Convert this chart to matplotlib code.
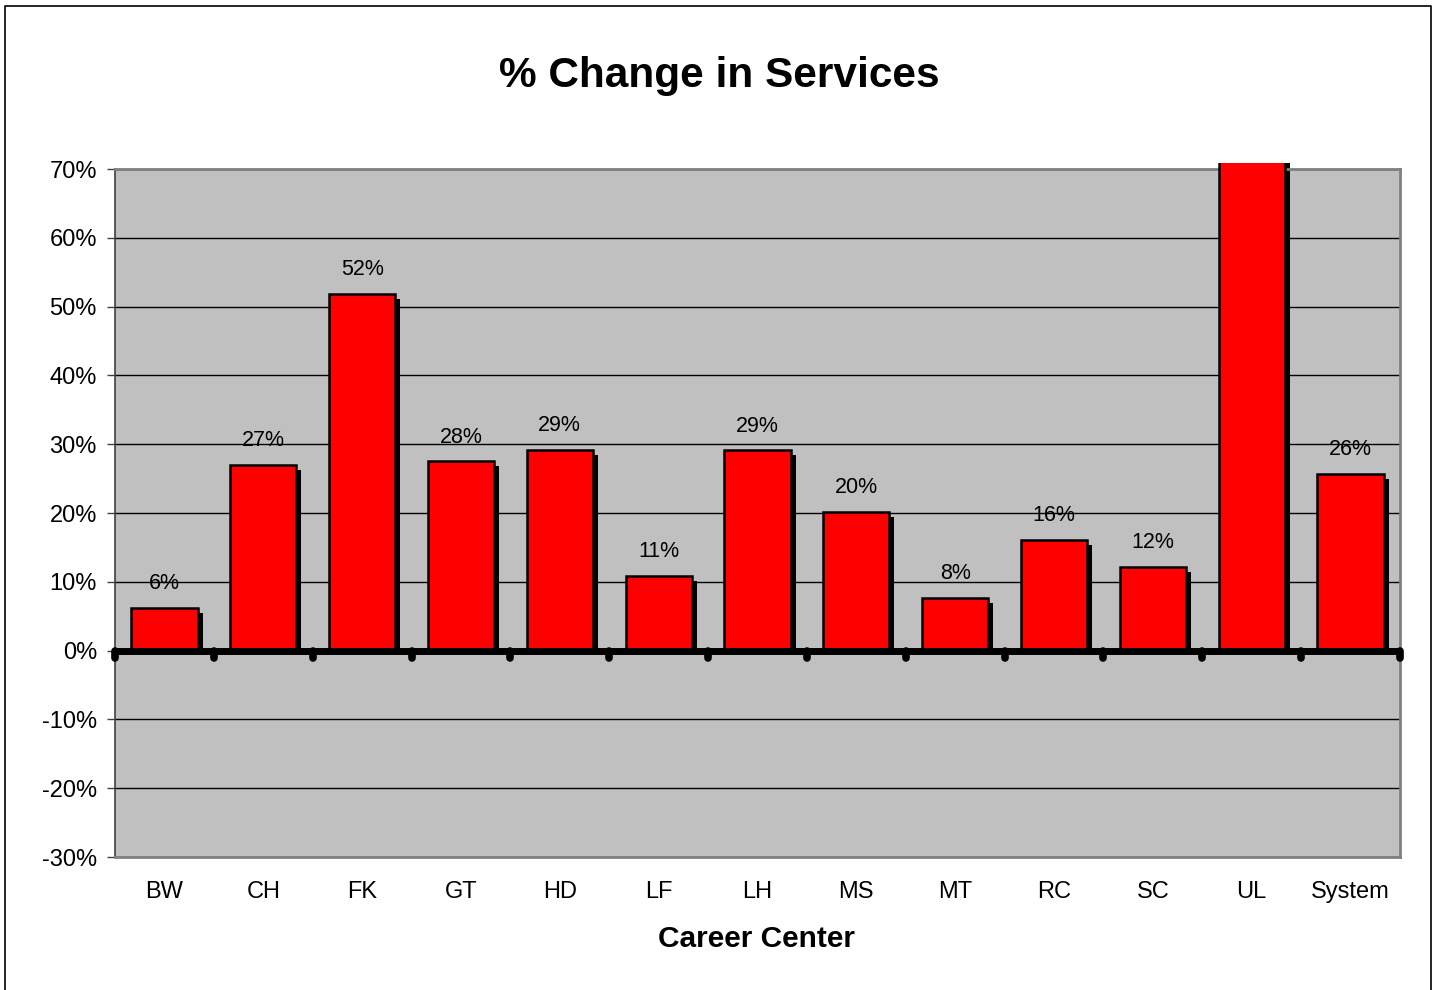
import matplotlib
matplotlib.use("Agg")
import matplotlib.pyplot as plt
from matplotlib.lines import Line2D
from matplotlib.transforms import Bbox, TransformedBbox, ScaledTranslation, blended_transform_factory
import numpy as np

plt.rcParams['font.family'] = ['Liberation Sans', 'DejaVu Sans']

categories = ["BW", "CH", "FK", "GT", "HD", "LF", "LH", "MS", "MT", "RC", "SC", "UL", "System"]
values = [0.062, 0.270, 0.519, 0.275, 0.292, 0.109, 0.291, 0.201, 0.076, 0.161, 0.122, 1.00, 0.257]
labels = ["6%", "27%", "52%", "28%", "29%", "11%", "29%", "20%", "8%", "16%", "12%", "", "26%"]
yticks = [-0.3, -0.2, -0.1, 0.0, 0.1, 0.2, 0.3, 0.4, 0.5, 0.6, 0.7]
ytick_labels = ["-30%", "-20%", "-10%", "0%", "10%", "20%", "30%", "40%", "50%", "60%", "70%"]

W, H, DPI = 1436, 990, 100
fig = plt.figure(figsize=(W / DPI, H / DPI), dpi=DPI)
ax = fig.add_axes([115 / W, 1 - 857 / H, (1400 - 115) / W, (857 - 169) / H])
ax.set_facecolor("#c0c0c0")

n = len(categories)
x = np.arange(n)
ax.set_xlim(-0.5, n - 0.5)
ax.set_ylim(-0.3, 0.7)

# gridlines
for yv in yticks:
    ax.axhline(yv, color="black", lw=1.0, zorder=1)

width = 0.67
clip = TransformedBbox(Bbox([[0, 0], [1, 0.709]]),
                       blended_transform_factory(ax.transAxes, ax.transData))
shadow_tr = ax.transData + ScaledTranslation(5 / DPI, -5 / DPI, fig.dpi_scale_trans)
sh = ax.bar(x, values, width=width, color="black", edgecolor="black", lw=0, zorder=2)
for p in sh:
    p.set_transform(shadow_tr)
    p.set_clip_box(clip)
bars = ax.bar(x, values, width=width, color="#ff0000", edgecolor="black", lw=1.8, zorder=3)
for p in bars:
    p.set_clip_box(clip)

for xi, v, lab in zip(x, values, labels):
    if lab:
        ax.annotate(lab, (xi, v), xytext=(0, 10), textcoords="offset points",
                    ha="center", va="bottom", fontsize=15.5, zorder=5)

# zero line with round dot ticks at category boundaries
ax.axhline(0, color="black", lw=5, zorder=4, solid_capstyle="round")
for b in np.arange(n + 1) - 0.5:
    ax.plot([b, b], [0, -0.011], color="black", lw=5.5, solid_capstyle="round", zorder=4, clip_on=False)

ax.set_xticks(x)
ax.set_xticklabels(categories, fontsize=17)
ax.tick_params(axis="x", length=0, pad=17)
ax.set_yticks(yticks)
ax.set_yticklabels(ytick_labels, fontsize=17)
ax.tick_params(axis="y", length=6, width=1, color="#404040", pad=7, direction="out")

for s in ["top", "right", "bottom"]:
    ax.spines[s].set_color("#808080")
    ax.spines[s].set_linewidth(2)
ax.spines["left"].set_color("#404040")
ax.spines["left"].set_linewidth(1.2)

fig.text(719 / W, 1 - 76 / H, "% Change in Services", ha="center", va="center",
         fontsize=30.5, fontweight="bold")
fig.text(757 / W, 1 - 939 / H, "Career Center", ha="center", va="center",
         fontsize=21.5, fontweight="bold")

# outer border (left, top, right)
fig.add_artist(Line2D([5 / W, 5 / W, 1431 / W, 1431 / W], [0, 1 - 6 / H, 1 - 6 / H, 0],
                      transform=fig.transFigure, color="black", lw=1.2))

fig.savefig("out.png", dpi=DPI)
